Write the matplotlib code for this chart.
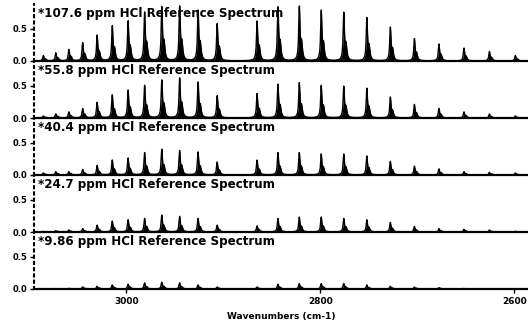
import numpy as np
import matplotlib
matplotlib.use("Agg")
import matplotlib.pyplot as plt

# HCl line positions (cm-1): R-branch R(11)..R(0), then P-branch P(1)..P(12)
line_positions = [3085.3, 3072.5, 3059.0, 3044.8, 3029.9, 3014.3, 2998.0, 2981.0,
                  2963.3, 2944.9, 2925.9, 2906.2,
                  2865.1, 2843.6, 2821.6, 2799.0, 2775.8, 2752.0, 2727.8, 2703.0,
                  2677.7, 2651.9, 2625.7, 2599.0]

labels = ["*107.6 ppm HCl Reference Spectrum",
          "*55.8 ppm HCl Reference Spectrum",
          "*40.4 ppm HCl Reference Spectrum",
          "*24.7 ppm HCl Reference Spectrum",
          "*9.86 ppm HCl Reference Spectrum"]

heights_107 = [0.08, 0.12, 0.17, 0.27, 0.38, 0.52, 0.59, 0.72, 0.80, 0.81, 0.75, 0.55,
               0.59, 0.80, 0.81, 0.75, 0.72, 0.64, 0.50, 0.33, 0.25, 0.19, 0.14, 0.08]
heights_55 = [0.03, 0.06, 0.09, 0.14, 0.23, 0.34, 0.41, 0.48, 0.56, 0.59, 0.53, 0.33,
              0.36, 0.50, 0.52, 0.48, 0.47, 0.44, 0.31, 0.20, 0.14, 0.09, 0.06, 0.03]
heights_40 = [0.03, 0.05, 0.05, 0.08, 0.14, 0.22, 0.25, 0.33, 0.38, 0.36, 0.34, 0.19,
              0.22, 0.33, 0.33, 0.31, 0.31, 0.28, 0.20, 0.13, 0.09, 0.05, 0.04, 0.03]
heights_24 = [0.01, 0.02, 0.03, 0.05, 0.10, 0.16, 0.18, 0.20, 0.25, 0.23, 0.20, 0.10,
              0.09, 0.20, 0.22, 0.22, 0.20, 0.18, 0.14, 0.08, 0.05, 0.04, 0.03, 0.01]
heights_9 = [0.005, 0.008, 0.01, 0.03, 0.04, 0.06, 0.07, 0.09, 0.10, 0.09, 0.06, 0.03,
             0.03, 0.07, 0.08, 0.08, 0.08, 0.06, 0.04, 0.03, 0.02, 0.008, 0.005, 0.003]
all_heights = [heights_107, heights_55, heights_40, heights_24, heights_9]

x_ticks = [3000, 2800, 2600]
y_ticks = [0.0, 0.5]

# isotope (H37Cl) shoulder parameters and line width (rendering only)
iso_shift = 2.3
iso_ratio = 0.32
hwhm = 0.75

wn = np.arange(2586.0, 3095.0, 0.05)

def spectrum(pos, hts):
    y = np.zeros_like(wn)
    for p, h in zip(pos, hts):
        y += h / (1 + ((wn - p) / hwhm) ** 2)
        y += iso_ratio * h / (1 + ((wn - (p - iso_shift)) / (1.4 * hwhm)) ** 2)
    return y

W, H = 528, 326
fig = plt.figure(figsize=(W / 100, H / 100), dpi=100)
left = 34 / W
right = 1.0
top_px = 4
panel_h = 57
for i in range(5):
    y0 = 1 - (top_px + panel_h * (i + 1)) / H
    ax = fig.add_axes([left, y0, right - left, panel_h / H])
    y = spectrum(line_positions, all_heights[i])
    ax.fill_between(wn, 0, y, color="black", linewidth=0)
    ax.plot(wn, y, color="black", linewidth=1.0)
    ax.set_xlim(3095, 2586)
    ax.set_ylim(0, 0.89)
    for s in ["top", "right"]:
        ax.spines[s].set_visible(False)
    ax.spines["bottom"].set_linewidth(1.6)
    ax.spines["left"].set_linestyle((0, (1, 2)))
    ax.spines["left"].set_linewidth(1.5)
    ax.set_yticks(y_ticks)
    ax.set_yticklabels(["0.0", "0.5"], fontsize=6, fontweight="bold")
    ax.tick_params(axis="y", length=3, width=1, pad=2)
    ax.set_xticks(x_ticks)
    if i < 4:
        ax.tick_params(axis="x", length=0, labelbottom=False)
    else:
        ax.set_xticklabels([str(t) for t in x_ticks], fontsize=6.5, fontweight="bold")
        ax.tick_params(axis="x", length=3, width=1, pad=3)
        ax.set_xlabel("Wavenumbers (cm-1)", fontsize=6.5, fontweight="bold", labelpad=4)
    ax.text(0.008, 0.95, labels[i], transform=ax.transAxes, ha="left", va="top",
            fontsize=8.6, fontweight="heavy", color="black")
    ax.patch.set_alpha(0)

fig.savefig("out.png", dpi=100)
